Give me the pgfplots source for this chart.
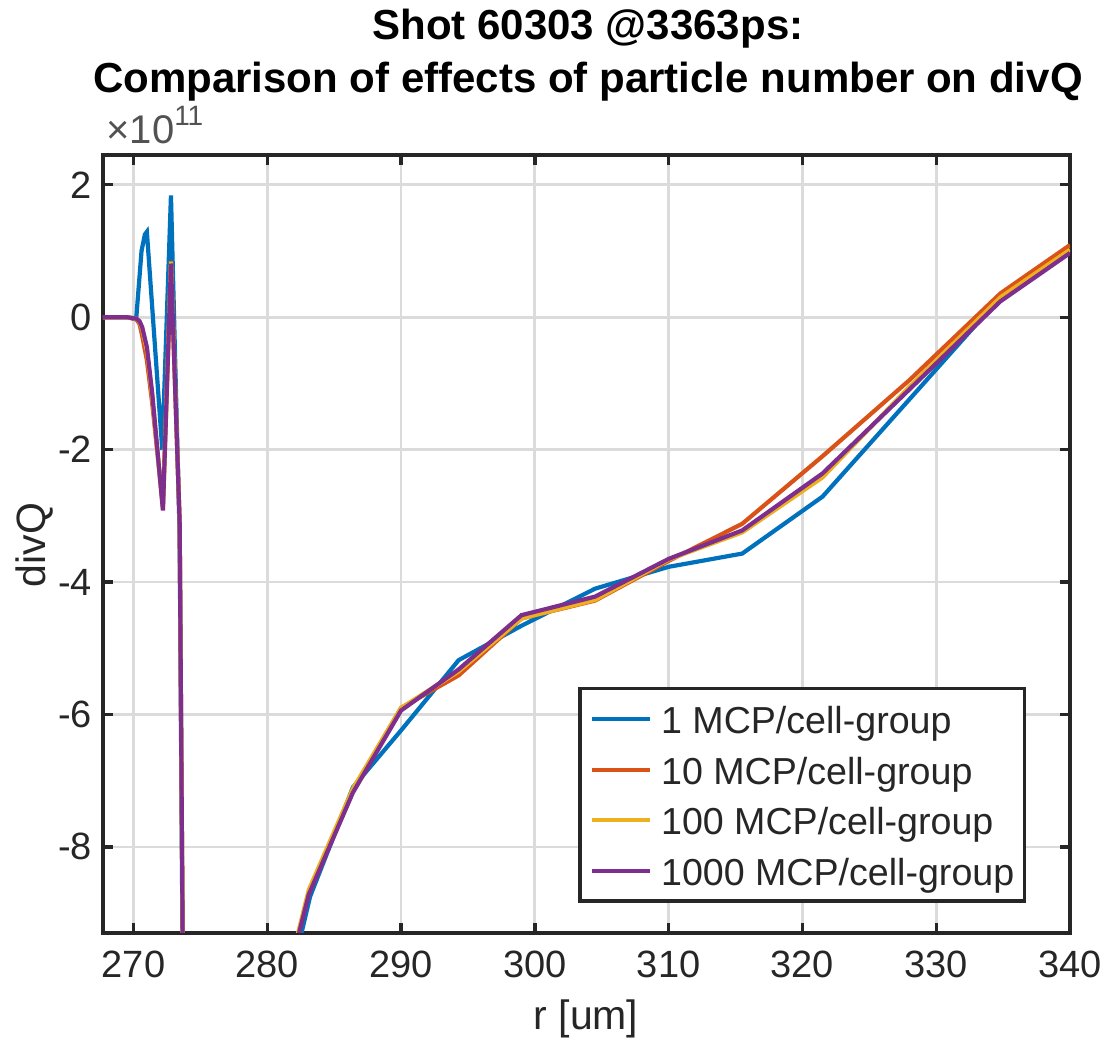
\documentclass[border=0pt]{standalone}
\usepackage{pgfplots}
\pgfplotsset{compat=1.18}
\usepackage{fontspec}
\setmainfont{Liberation Sans}
\definecolor{mblue}{rgb}{0,0.447,0.741}
\definecolor{morange}{rgb}{0.850,0.325,0.098}
\definecolor{myellow}{rgb}{0.929,0.694,0.125}
\definecolor{mpurple}{rgb}{0.494,0.184,0.556}
\definecolor{axgray}{rgb}{0.15,0.15,0.15}
\definecolor{gridgray}{rgb}{0.86,0.86,0.86}
\begin{document}
\begin{tikzpicture}
\useasboundingbox (0,0) rectangle (551.5pt,524.5pt);
\begin{axis}[
  at={(51.5pt,58pt)}, anchor=south west,
  scale only axis, width=483.5pt, height=389pt,
  xmin=267.72, xmax=340, ymin=-9.30, ymax=2.45,
  xtick={270,280,...,340}, ytick={-8,-6,...,2},
  grid=major,
  major grid style={line width=1.4pt, color=gridgray},
  axis line style={line width=1.7pt, color=axgray},
  tick style={line width=1.7pt, color=axgray},
  major tick length=5pt, tick align=inside, tick pos=both,
  /pgf/number format/assume math mode=true,
  ticklabel style={font=\fontsize{19}{22}\selectfont, text=axgray},
  xticklabel style={yshift=-5.5pt},
  yticklabel style={xshift=-2pt},
  legend cell align=left,
  legend style={at={(0.9545,0.3162)}, anchor=north east,
    draw=axgray, line width=1.7pt, fill=white,
    font=\fontsize{18.8}{22}\selectfont, text=axgray,
    inner xsep=5pt, inner ysep=4pt,
    row sep=2.75pt,
    nodes={inner sep=0pt, text height=18.5pt, text depth=4pt},
    /tikz/every odd column/.append style={column sep=4.5pt}},
  legend image code/.code={\draw[#1] (0pt,0pt) -- (29pt,0pt);},
  every axis plot/.append style={line width=2.1pt},
]
\addplot[color=mblue] coordinates {
(267.0,0) (269.5,0) (270.2,-0.03) (270.6,1.0) (270.85,1.25) (271.0,1.29) (272.15,-2.0)
(272.8,1.84) (273.45,-3.3) (274.2,-25) (278.0,-13.2) (283.2,-8.75)
(286.4,-7.10) (290.0,-6.24) (294.3,-5.18) (299.0,-4.66) (304.5,-4.10)
(310.0,-3.77) (315.5,-3.57) (321.5,-2.71) (328.0,-1.24) (334.8,0.30) (340.0,1.01)};
\addlegendentry{1 MCP/cell-group}
\addplot[color=morange] coordinates {
(267.0,0) (269.5,0) (270.2,-0.03) (270.45,-0.10) (270.65,-0.28) (271.0,-0.65) (271.4,-1.3)
(272.2,-2.85) (272.8,0.85) (273.45,-3.1) (274.2,-24) (278.0,-12.8) (283.1,-8.70)
(286.4,-7.15) (290.0,-5.90) (294.3,-5.41) (299.0,-4.55) (304.5,-4.28)
(310.0,-3.68) (315.5,-3.12) (321.5,-2.10) (328.0,-0.95) (334.8,0.36) (340.0,1.09)};
\addlegendentry{10 MCP/cell-group}
\addplot[color=myellow] coordinates {
(267.0,0) (269.5,0) (270.2,-0.02) (270.45,-0.07) (270.65,-0.18) (271.0,-0.50) (271.4,-1.2)
(272.2,-2.90) (272.8,0.84) (273.45,-3.1) (274.2,-24) (278.0,-12.8) (283.1,-8.65)
(286.4,-7.12) (290.0,-5.90) (294.3,-5.35) (299.0,-4.55) (304.5,-4.27)
(310.0,-3.66) (315.5,-3.25) (321.5,-2.42) (328.0,-1.05) (334.8,0.30) (340.0,1.02)};
\addlegendentry{100 MCP/cell-group}
\addplot[color=mpurple] coordinates {
(267.0,0) (269.5,0) (270.2,-0.02) (270.45,-0.06) (270.65,-0.15) (271.0,-0.45) (271.4,-1.15)
(272.2,-2.92) (272.8,0.81) (273.45,-3.1) (274.2,-24) (278.0,-12.8) (283.1,-8.72)
(286.4,-7.18) (290.0,-5.94) (294.3,-5.32) (299.0,-4.50) (304.5,-4.22)
(310.0,-3.65) (315.5,-3.22) (321.5,-2.36) (328.0,-1.09) (334.8,0.24) (340.0,0.97)};
\addlegendentry{1000 MCP/cell-group}
\end{axis}
\node[anchor=base, font=\fontsize{21}{25}\selectfont\bfseries] at (294pt,504.5pt) {Shot 60303 @3363ps:};
\node[anchor=base, font=\fontsize{21}{25}\selectfont\bfseries] at (294pt,478.2pt) {Comparison of effects of particle number on divQ};
\node[anchor=base west, inner sep=0pt, text=axgray!80, font=\fontsize{20}{22}\selectfont] at (53pt,452.5pt) {×10\raisebox{9pt}{\fontsize{14}{16}\selectfont 11}};
\node[rotate=90, font=\fontsize{20.5}{24}\selectfont, text=axgray] at (17.5pt,252pt) {divQ};
\node[anchor=base, font=\fontsize{20.5}{24}\selectfont, text=axgray] at (293pt,9.5pt) {r [um]};
\end{tikzpicture}
\end{document}
